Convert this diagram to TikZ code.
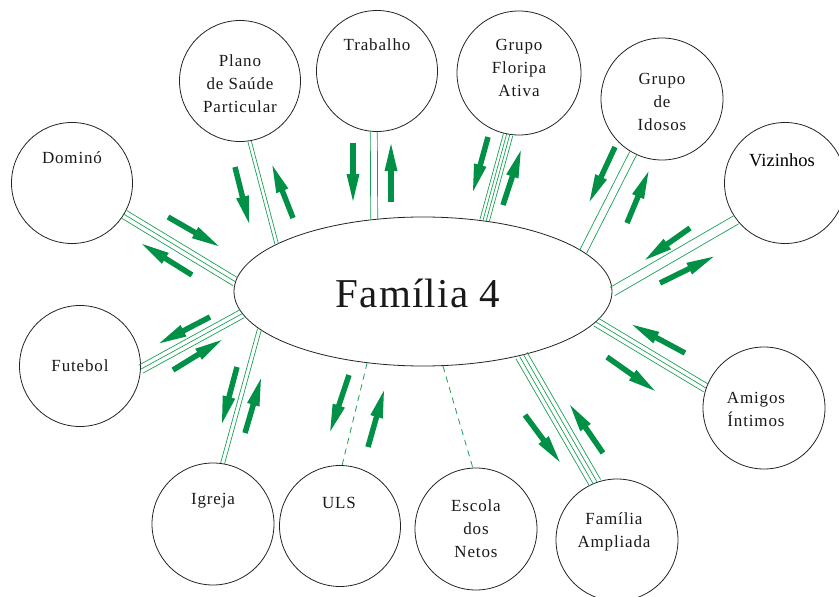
\documentclass[tikz,border=0pt]{standalone}
\usepackage{fontspec}
\setmainfont{Liberation Serif}
\newfontfamily\labfont[LetterSpace=5]{Liberation Serif}
\newfontfamily\bigfont[LetterSpace=3]{Liberation Serif}
\usetikzlibrary{shapes.geometric,arrows.meta,calc}
\definecolor{lgreen}{RGB}{25,160,85}
\definecolor{agreen}{RGB}{0,145,70}
\definecolor{edgegray}{RGB}{35,35,35}
\tikzset{
  circ/.style={circle, draw=edgegray, line width=0.8pt, minimum size=#1, inner sep=0pt},
  circ/.default=121pt,
  lab/.style={align=center, inner sep=0pt, text=black!90, font=\labfont\fontsize{17}{23}\selectfont},
  conn/.style={draw=lgreen, line width=0.7pt},
  dconn/.style={draw=lgreen, line width=0.8pt, dash pattern=on 6pt off 5pt},
  garrow/.style={draw=agreen, line width=5.5pt, -{Triangle[length=31pt,width=11pt]}}
}
\newcommand\multiconn[3]{\foreach \o in {#3} {\draw[conn] ($(#1)!\o pt!90:(#2)$) -- ($(#2)!\o pt!-90:(#1)$);}}
\begin{document}
\begin{tikzpicture}[x=1pt,y=-1pt]
\useasboundingbox (0,0) rectangle (839,597);
% central ellipse
\node[ellipse, draw=edgegray, line width=0.8pt, minimum width=378pt, minimum height=149pt, inner sep=0pt] (ell) at (423,291.5) {};
\node[inner sep=0pt, font=\bigfont\fontsize{41}{45}\selectfont, text=black!90] (fam) at (418,293) {Família 4};
% circles
\node[circ] (dom) at (72,183) {};
\node[circ] (pla) at (240,81) {};
\node[circ] (tra) at (377,71) {};
\node[circ=124pt] (flo) at (519,73) {};
\node[circ=122pt] (ido) at (662,99) {};
\node[circ] (viz) at (785,183) {};
\node[circ=122pt] (ami) at (764,408) {};
\node[circ=122pt] (amp) at (617,540) {};
\node[circ=122pt] (esc) at (476,529) {};
\node[circ] (uls) at (340,526) {};
\node[circ=122pt] (igr) at (213,524) {};
\node[circ] (fut) at (80,366) {};
% labels
\node[lab] (domt) at (72,158) {Dominó};
\node[lab] (plat) at (240,84) {Plano\\de Saúde\\Particular};
\node[lab] (trat) at (377,45) {Trabalho};
\node[lab] (flot) at (519,68) {Grupo\\Floripa\\Ativa};
\node[lab] (idot) at (662,101.5) {Grupo\\de\\Idosos};
\node[inner sep=0pt, font=\fontsize{18.5}{22}\selectfont, text=black] (vizt) at (782,160) {Vizinhos};
\node[lab] (amit) at (756,409) {Amigos\\Íntimos};
\node[lab] (ampt) at (614,532) {Família\\Ampliada};
\node[lab] (esct) at (476,529) {Escola\\dos\\Netos};
\node[lab] (ulst) at (339,503) {ULS};
\node[lab] (igrt) at (213,501) {Igreja};
\node[lab] (futt) at (80,366) {Futebol};
% connectors
\multiconn{dom.-31.8}{ell.177}{-4.6,0,4.6}
\multiconn{pla.-81.3}{ell.162.7}{-1.75,1.75}
\multiconn{tra.-93.4}{ell.124.7}{-3.5,3.5}
\multiconn{flo.-100.4}{ell.49.2}{-4.8,-1.6,1.6,4.8}
\multiconn{ido.-118.2}{ell.14.9}{-3.8,3.8}
\multiconn{viz.217.6}{ell.0}{-4.75,4.75}
\multiconn{ami.161.9}{ell.-10.4}{-4.5,0,4.5}
\multiconn{amp.111.8}{ell.-33.9}{-6.45,-2.15,2.15,6.45}
\multiconn{igr.81}{ell.193.7}{-2,2}
\multiconn{fut.-3}{ell.187.1}{-4.5,0,4.5}
\draw[dconn] (ell.-75.5) -- (esc.93.8);
\draw[dconn] (ell.-128.6) -- (uls.88);
% flow arrows
\draw[garrow] (168,217) -- (222,248);
\draw[garrow] (192,275) -- (139,242);
\draw[garrow] (235,167) -- (250,227);
\draw[garrow] (293,218) -- (271,162);
\draw[garrow] (353,143) -- (353,205);
\draw[garrow] (391,202) -- (391,140);
\draw[garrow] (488,137) -- (472,195);
\draw[garrow] (503,205) -- (522,147);
\draw[garrow] (615,147) -- (588,205);
\draw[garrow] (627,223) -- (650,168);
\draw[garrow] (690,228) -- (642,262);
\draw[garrow] (660,283) -- (717,255);
\draw[garrow] (607,357) -- (658,393);
\draw[garrow] (685,353) -- (629,323);
\draw[garrow] (525,415) -- (562,465);
\draw[garrow] (603,453) -- (568,402);
\draw[garrow] (349,375) -- (329,435);
\draw[garrow] (368,447) -- (385,387);
\draw[garrow] (237,367) -- (221,427);
\draw[garrow] (245,433) -- (262,375);
\draw[garrow] (173,370) -- (225,338);
\draw[garrow] (210,317) -- (156,345);
\end{tikzpicture}
\end{document}
